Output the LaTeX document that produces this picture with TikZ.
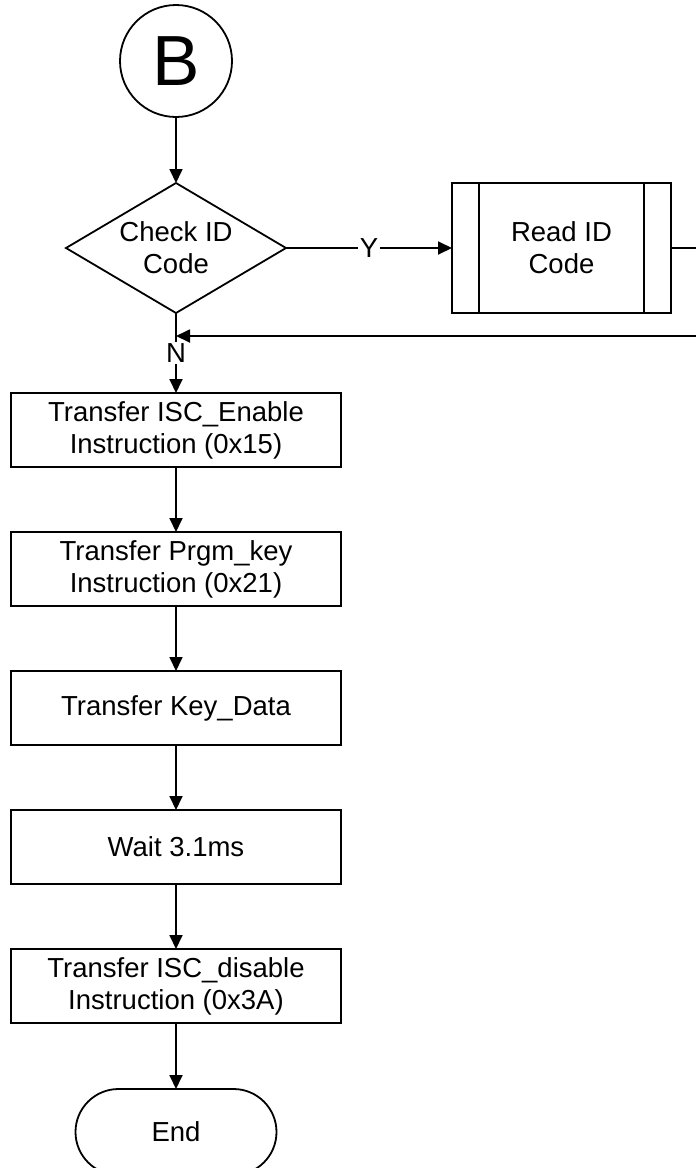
\documentclass[tikz,border=0pt]{standalone}
\usepackage{fontspec}
\setmainfont{Liberation Sans}
\usetikzlibrary{arrows.meta,positioning,shapes.geometric,shapes.misc}
\tikzset{
  fc/.style={draw, line width=1.8pt, align=center, outer sep=0pt,
             font=\fontsize{27.5}{32}\selectfont, inner sep=0pt},
  fbox/.style={fc, rectangle, minimum width=330pt, minimum height=74pt},
  fdec/.style={fc, diamond, aspect=1.7, minimum width=220pt, minimum height=130pt},
  fsub/.style={fc, rectangle, minimum width=219pt, minimum height=130pt},
  fterm/.style={fc, rounded rectangle, minimum width=201pt, minimum height=86pt},
  fcon/.style={fc, circle, minimum size=112pt, font=\fontsize{71}{71}\selectfont},
  lbl/.style={fill=white, inner sep=1.5pt, font=\fontsize{27.5}{32}\selectfont},
  ar/.style={-{Triangle[length=14pt, width=13pt]}, line width=1.8pt},
}
\begin{document}
\begin{tikzpicture}[x=1pt, y=-1pt, node distance=65pt]
  \useasboundingbox (0,0) rectangle (696,1168);
  \clip (0,0) rectangle (696,1168);
  \node[fcon] (b) at (176,61) {B};
  \node[fdec, below=66pt of b] (chk) {Check ID\\Code};
  \node[fsub, right=166pt of chk] (rd) {Read ID\\Code};
  \draw[line width=1.8pt] ([xshift=27pt]rd.north west) -- ([xshift=27pt]rd.south west);
  \draw[line width=1.8pt] ([xshift=-27pt]rd.north east) -- ([xshift=-27pt]rd.south east);
  \node[fbox, below=80pt of chk] (en) {Transfer ISC\_Enable\\Instruction (0x15)};
  \node[fbox, below=of en] (pk) {Transfer Prgm\_key\\Instruction (0x21)};
  \node[fbox, below=of pk] (kd) {Transfer Key\_Data};
  \node[fbox, below=of kd] (wt) {Wait 3.1ms};
  \node[fbox, below=of wt] (dis) {Transfer ISC\_disable\\Instruction (0x3A)};
  \node[fterm, below=66pt of dis] (end) {End};
  % loop back from Read ID
  \coordinate (lp) at (720,248);
  \coordinate (jn) at (chk.south |- 0,336);
  \draw[ar] (b) -- (chk);
  \draw[ar] (chk.east) -- node[lbl] {Y} (rd.west);
  \draw[ar] (rd.east) -- (lp) |- (jn);
  \draw[ar] (chk.south) -- node[lbl] {N} (en.north);
  \draw[ar] (en) -- (pk);
  \draw[ar] (pk) -- (kd);
  \draw[ar] (kd) -- (wt);
  \draw[ar] (wt) -- (dis);
  \draw[ar] (dis) -- (end);
\end{tikzpicture}
\end{document}
